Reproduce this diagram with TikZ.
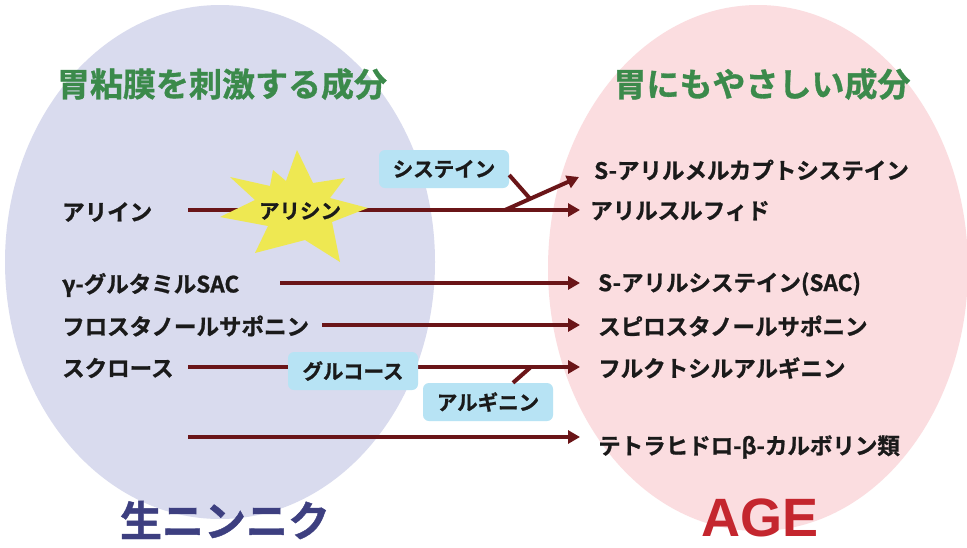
\documentclass[tikz,border=0pt]{standalone}
\usepackage{fontspec}
\setmainfont{Noto Sans CJK JP}[BoldFont={Noto Sans CJK JP Bold}, BoldFeatures={FakeBold=1}]
\newfontfamily\agefont{Liberation Sans}
\usetikzlibrary{arrows.meta,calc}
\definecolor{lav}{HTML}{D9DBEE}
\definecolor{pinkbg}{HTML}{FBDDE0}
\definecolor{arrowred}{HTML}{6A1518}
\definecolor{tagblue}{HTML}{B7E3F4}
\definecolor{staryellow}{HTML}{EEE852}
\definecolor{titlegreen}{HTML}{3B8A4B}
\definecolor{navy}{HTML}{3D3F80}
\definecolor{agered}{HTML}{C4262E}
\definecolor{labelblack}{HTML}{1A1A1A}
\tikzset{
  lbl/.style={font=\bfseries\fontsize{22.5}{22.5}\selectfont, inner sep=0pt, anchor=west, text=labelblack},
  tagbox/.style={fill=tagblue, rounded corners=6pt, font=\bfseries\fontsize{20.5}{20.5}\selectfont,
    minimum width=130pt, minimum height=38pt, inner sep=0pt, text=labelblack},
  title/.style={font=\bfseries\fontsize{33}{33}\selectfont, text=titlegreen, inner sep=0pt},
  arr/.style={draw=arrowred, line width=4pt, -{Triangle[length=12pt,width=13pt]}},
  conn/.style={draw=arrowred, line width=4pt},
}
\begin{document}
\begin{tikzpicture}[x=1pt,y=-1pt]
\useasboundingbox (0,0) rectangle (967,547);
\fill[white] (0,0) rectangle (967,547);
% ellipses
\fill[lav] (220,262) ellipse [x radius=215, y radius=257];
\fill[pinkbg] (758,268) ellipse [x radius=210, y radius=263];

% titles
\node[title] (tl) at (222,84) {胃粘膜を刺激する成分};
\node[title] (tr) at (762,84) {胃にもやさしい成分};

% left labels
\node[lbl] (aliin) at (62,212) {アリイン};
\node[lbl] (gsac) at (62,285) {γ-グルタミルSAC};
\node[lbl] (furo) at (62,326) {フロスタノールサポニン};
\node[lbl] (sucr) at (62,368) {スクロース};

% right labels
\node[lbl] (merc) at (594,170) {S-アリルメルカプトシステイン};
\node[lbl] (sulf) at (590,211) {アリルスルフィド};
\node[lbl] (sac) at (598,284) {S-アリルシステイン(SAC)};
\node[lbl] (spiro) at (598,326) {スピロスタノールサポニン};
\node[lbl] (fruc) at (598,368) {フルクトシルアルギニン};
\node[lbl] (tetra) at (598,447) {テトラヒドロ-β-カルボリン類};

% free ends
\coordinate (a0) at (188,210);
\coordinate (g0) at (280,283);
\coordinate (f0) at (322,325);
\coordinate (s0) at (188,367);
\coordinate (t0) at (188,437);
\coordinate (br) at (505,210);
\coordinate (mtip) at ($(merc.west)+(-15,7)$);

% arrows
\draw[arr] (a0) -- (a0 -| 580,0);
\draw[arr] (br) -- (mtip);
\draw[arr] (g0) -- (g0 -| 580,0);
\draw[arr] (f0) -- (f0 -| 580,0);
\draw[arr] (s0) -- (s0 -| 580,0);
\draw[arr] (t0) -- (t0 -| 580,0);

% star
\fill[staryellow] (297,150) -- (313,183) -- (345,178) -- (330,198) -- (368,208) -- (332,222)
  -- (340,262) -- (305,240) -- (255,253) -- (268,226) -- (220,217) -- (255,200)
  -- (230,177) -- (270,186) -- (273,170) -- (286,181) -- cycle;
\node[font=\bfseries\fontsize{20.5}{20.5}\selectfont, text=labelblack, inner sep=0pt] (allicin) at (300,211) {アリシン};

% tags
\node[tagbox] (cys) at (444,169) {システイン};
\node[tagbox] (glu) at (353,371) {グルコース};
\node[tagbox] (arg) at (488,402) {アルギニン};
\draw[conn] ($(arg.north)+(25,0)$) -- ($(arg.north)+(42,-15)$);
\draw[conn] ($(cys.east)+(0,6)$) -- ($(br)!0.34!(mtip)$);

% bottom labels
\node[font=\bfseries\fontsize{42}{42}\selectfont, text=navy, inner sep=0pt] (nama) at (225,520) {生ニンニク};
\node[font=\agefont\bfseries\fontsize{54}{54}\selectfont, text=agered, inner sep=0pt] (age) at (760,518) {AGE};
\end{tikzpicture}
\end{document}
